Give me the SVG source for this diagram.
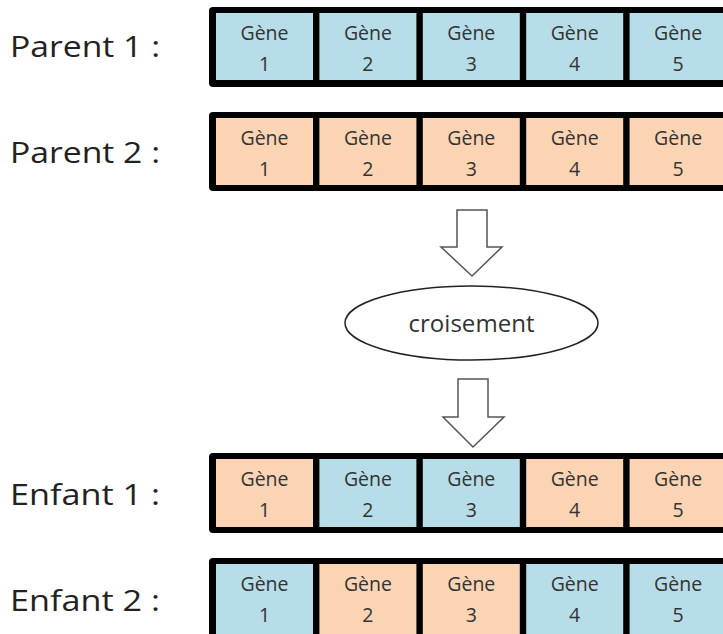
<svg xmlns="http://www.w3.org/2000/svg" width="723" height="634" viewBox="0 0 723 634">
<style>
.frame{fill:#000}
.b{fill:#b7dde8}
.o{fill:#fbd4b4}
.g{font-family:"Open Sans","DejaVu Sans",sans-serif;font-size:19.5px;fill:#333;text-anchor:middle}
.lbl{font-family:"Open Sans","DejaVu Sans",sans-serif;font-size:30px;fill:#222}
.arrow{fill:#fff;stroke:#555;stroke-width:1.5;stroke-linejoin:miter}
.ell{fill:#fff;stroke:#222;stroke-width:1.5}
.cx{font-family:"Open Sans","DejaVu Sans",sans-serif;font-size:23px;fill:#333;text-anchor:middle}
</style>
<rect width="723" height="634" fill="#fff"/>

<g id="parent1">
<text class="lbl" x="10" y="57" textLength="150" lengthAdjust="spacingAndGlyphs">Parent 1 :</text>
<rect class="frame" x="209" y="7" width="540" height="80" rx="4"/>
<g id="p1g1"><rect class="b" x="216" y="13" width="97" height="67"/><text class="g" x="264.5" y="40">Gène</text><text class="g" x="264.5" y="71">1</text></g>
<g id="p1g2"><rect class="b" x="319.4" y="13" width="97" height="67"/><text class="g" x="367.9" y="40">Gène</text><text class="g" x="367.9" y="71">2</text></g>
<g id="p1g3"><rect class="b" x="422.8" y="13" width="97" height="67"/><text class="g" x="471.3" y="40">Gène</text><text class="g" x="471.3" y="71">3</text></g>
<g id="p1g4"><rect class="b" x="526.2" y="13" width="97" height="67"/><text class="g" x="574.7" y="40">Gène</text><text class="g" x="574.7" y="71">4</text></g>
<g id="p1g5"><rect class="b" x="629.6" y="13" width="97" height="67"/><text class="g" x="678.1" y="40">Gène</text><text class="g" x="678.1" y="71">5</text></g>
</g>

<g id="parent2">
<text class="lbl" x="10" y="163" textLength="150" lengthAdjust="spacingAndGlyphs">Parent 2 :</text>
<rect class="frame" x="209" y="112" width="540" height="79" rx="4"/>
<g id="p2g1"><rect class="o" x="216" y="118" width="97" height="67"/><text class="g" x="264.5" y="145">Gène</text><text class="g" x="264.5" y="176">1</text></g>
<g id="p2g2"><rect class="o" x="319.4" y="118" width="97" height="67"/><text class="g" x="367.9" y="145">Gène</text><text class="g" x="367.9" y="176">2</text></g>
<g id="p2g3"><rect class="o" x="422.8" y="118" width="97" height="67"/><text class="g" x="471.3" y="145">Gène</text><text class="g" x="471.3" y="176">3</text></g>
<g id="p2g4"><rect class="o" x="526.2" y="118" width="97" height="67"/><text class="g" x="574.7" y="145">Gène</text><text class="g" x="574.7" y="176">4</text></g>
<g id="p2g5"><rect class="o" x="629.6" y="118" width="97" height="67"/><text class="g" x="678.1" y="145">Gène</text><text class="g" x="678.1" y="176">5</text></g>
</g>

<g id="croisement">
<ellipse class="ell" cx="471.5" cy="323" rx="126.5" ry="37"/>
<text class="cx" x="471.5" y="332" textLength="126" lengthAdjust="spacingAndGlyphs">croisement</text>
</g>

<g id="enfant1">
<text class="lbl" x="10" y="505" textLength="150" lengthAdjust="spacingAndGlyphs">Enfant 1 :</text>
<rect class="frame" x="209" y="453" width="540" height="80" rx="4"/>
<g id="e1g1"><rect class="o" x="216" y="459" width="97" height="68"/><text class="g" x="264.5" y="486">Gène</text><text class="g" x="264.5" y="517">1</text></g>
<g id="e1g2"><rect class="b" x="319.4" y="459" width="97" height="68"/><text class="g" x="367.9" y="486">Gène</text><text class="g" x="367.9" y="517">2</text></g>
<g id="e1g3"><rect class="b" x="422.8" y="459" width="97" height="68"/><text class="g" x="471.3" y="486">Gène</text><text class="g" x="471.3" y="517">3</text></g>
<g id="e1g4"><rect class="o" x="526.2" y="459" width="97" height="68"/><text class="g" x="574.7" y="486">Gène</text><text class="g" x="574.7" y="517">4</text></g>
<g id="e1g5"><rect class="o" x="629.6" y="459" width="97" height="68"/><text class="g" x="678.1" y="486">Gène</text><text class="g" x="678.1" y="517">5</text></g>
</g>

<g id="enfant2">
<text class="lbl" x="10" y="611" textLength="150" lengthAdjust="spacingAndGlyphs">Enfant 2 :</text>
<rect class="frame" x="209" y="558" width="540" height="90" rx="4"/>
<g id="e2g1"><rect class="b" x="216" y="564" width="97" height="80"/><text class="g" x="264.5" y="591">Gène</text><text class="g" x="264.5" y="622">1</text></g>
<g id="e2g2"><rect class="o" x="319.4" y="564" width="97" height="80"/><text class="g" x="367.9" y="591">Gène</text><text class="g" x="367.9" y="622">2</text></g>
<g id="e2g3"><rect class="o" x="422.8" y="564" width="97" height="80"/><text class="g" x="471.3" y="591">Gène</text><text class="g" x="471.3" y="622">3</text></g>
<g id="e2g4"><rect class="b" x="526.2" y="564" width="97" height="80"/><text class="g" x="574.7" y="591">Gène</text><text class="g" x="574.7" y="622">4</text></g>
<g id="e2g5"><rect class="b" x="629.6" y="564" width="97" height="80"/><text class="g" x="678.1" y="591">Gène</text><text class="g" x="678.1" y="622">5</text></g>
</g>

<g id="connectors">
<path class="arrow" d="M457,210 H487 V247 H502 L472,276 L441,247 H457 Z"/>
<path class="arrow" d="M458,379 H488 V417 H504 L473,447 L443,417 H458 Z"/>
</g>
</svg>
